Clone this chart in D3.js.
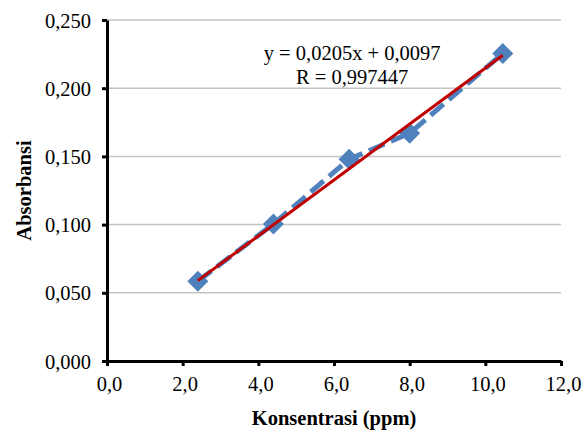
<!DOCTYPE html>
<html>
<head>
<meta charset="utf-8">
<script src="https://cdn.jsdelivr.net/npm/d3@7"></script>
<style>
body { margin: 0; background: #fff; }
svg text { font-family: "Liberation Serif", "Times New Roman", serif; }
</style>
</head>
<body>
<div id="chart"></div>
<script>
'use strict';

// data
var konsentrasi = [2.4, 4.4, 6.4, 8.0, 10.46];
var absorbansi = [0.0585, 0.1005, 0.1480, 0.1670, 0.2255];
var xTicks = [0, 2, 4, 6, 8, 10, 12];
var yTicks = [0, 0.05, 0.10, 0.15, 0.20, 0.25];
var slope = 0.0205, intercept = 0.0097;
var equationLines = ["y = 0,0205x + 0,0097", "R = 0,997447"];

var width = 587, height = 430;
var margin = {top: 20, right: 26, bottom: 69, left: 107};
var w = width - margin.left - margin.right;
var h = height - margin.top - margin.bottom;

var fmtX = function(d) { return d3.format(".1f")(d).replace(".", ","); };
var fmtY = function(d) { return d3.format(".3f")(d).replace(".", ","); };

var x = d3.scaleLinear().domain([0, 12]).range([0, w]);
var y = d3.scaleLinear().domain([0, 0.25]).range([h, 0]);

var svg = d3.select("#chart").append("svg")
	.attr("width", width)
	.attr("height", height);
var view = svg.append("g")
	.attr("transform", "translate(" + margin.left + "," + margin.top + ")");

// grid
view.append("g")
	.selectAll("line")
	.data(yTicks.filter(function(d) { return d > 0; }))
	.enter().append("line")
		.attr("x1", 0)
		.attr("x2", w)
		.attr("y1", function(d) { return y(d); })
		.attr("y2", function(d) { return y(d); })
		.attr("stroke", "#c4c4c4")
		.attr("stroke-width", 1.5);

// axes
var xAxis = d3.axisBottom(x).tickValues(xTicks).tickFormat(fmtX).tickSize(5).tickSizeOuter(0);
var yAxis = d3.axisLeft(y).tickValues(yTicks).tickFormat(fmtY).tickSize(5).tickSizeOuter(0);

var gx = view.append("g")
	.attr("transform", "translate(0," + h + ")")
	.call(xAxis);
var gy = view.append("g").call(yAxis);

[gx, gy].forEach(function(g) {
	g.attr("font-family", "'Liberation Serif', 'Times New Roman', serif").attr("font-size", 20.5);
	g.select(".domain").attr("stroke", "#000").attr("stroke-width", 3);
	g.selectAll(".tick line").attr("stroke", "#000").attr("stroke-width", 3);
	g.selectAll(".tick text").attr("fill", "#000");
});
gx.selectAll(".tick text").attr("y", 15).attr("dy", "0.71em").attr("dx", 2);
gy.selectAll(".tick text").attr("x", -16).attr("dy", "0.35em");

// data series, dashed
var pts = d3.zip(konsentrasi, absorbansi);
var line = d3.line()
	.x(function(d) { return x(d[0]); })
	.y(function(d) { return y(d[1]); });

view.append("path")
	.datum(pts)
	.attr("d", line)
	.attr("fill", "none")
	.attr("stroke", "#4f81bd")
	.attr("stroke-width", 5)
	.attr("stroke-dasharray", "17,7");

var r = 10.5;
view.append("g")
	.selectAll("path")
	.data(pts)
	.enter().append("path")
		.attr("transform", function(d) { return "translate(" + x(d[0]) + "," + y(d[1]) + ")"; })
		.attr("d", "M0," + (-r) + "L" + r + ",0L0," + r + "L" + (-r) + ",0Z")
		.attr("fill", "#4f81bd");

// trend line
var x0 = d3.min(konsentrasi), x1 = d3.max(konsentrasi);
view.append("line")
	.attr("x1", x(x0))
	.attr("y1", y(slope * x0 + intercept))
	.attr("x2", x(x1))
	.attr("y2", y(slope * x1 + intercept))
	.attr("stroke", "#c00000")
	.attr("stroke-width", 3);

// equation
view.append("text")
	.attr("y", 40)
	.attr("text-anchor", "middle")
	.style("font-size", "20.5px")
	.selectAll("tspan")
	.data(equationLines)
	.enter().append("tspan")
		.attr("x", x(6.48))
		.attr("dy", function(d, i) { return i ? "1.15em" : 0; })
		.text(function(d) { return d; });

// axis titles
svg.append("text")
	.attr("x", margin.left + x(6))
	.attr("y", 425)
	.attr("text-anchor", "middle")
	.style("font-size", "20.5px")
	.style("font-weight", "bold")
	.text("Konsentrasi (ppm)");

svg.append("text")
	.attr("transform", "translate(31," + (margin.top + h / 2) + ") rotate(-90)")
	.attr("text-anchor", "middle")
	.style("font-size", "20.5px")
	.style("font-weight", "bold")
	.text("Absorbansi");
</script>
</body>
</html>
